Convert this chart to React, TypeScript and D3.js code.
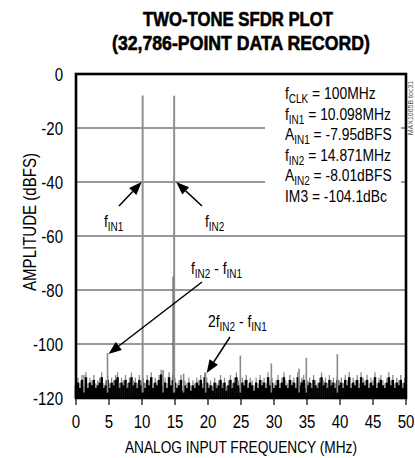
import React from "react";
import * as d3 from "d3";

const W = 415;
const H = 458;
const FONT = "'Liberation Sans', Arial, sans-serif";

const xTicks = [0, 5, 10, 15, 20, 25, 30, 35, 40, 45, 50];
const yTicks = [0, -20, -40, -60, -80, -100, -120];
const gridLevels = [-20, -40, -60, -80, -100];

// Fundamental tones [MHz, dBFS]
const toneFreqs = [10.098, 14.871];
const toneAmps = [-7.95, -8.01];

// Spurs [MHz, dBFS]
const spurFreqs = [1.2, 4.773, 13.2, 14.75, 16.3, 19.644, 24.9, 29.6, 33.8, 34.9, 39.6];
const spurAmps = [-111.5, -103.3, -109.6, -75, -111, -110.7, -104.3, -107.2, -109.2, -105.1, -103.7];

// Noise floor tops, 0.3 MHz bins starting at 0 MHz
const noiseStep = 0.3;
const noiseTops = [
  -115, -114, -116, -113, -115, -112, -116, -114, -115, -113, -116, -115, -114, -112, -116, -115, -113,
  -116, -114, -115, -113, -112, -116, -114, -115, -113, -116, -114, -112, -115, -114, -116, -113, -115,
  -114, -116, -113, -115, -112, -116, -114, -115, -113, -111, -115, -114, -116, -112, -115, -113, -114,
  -116, -115, -113, -117, -115, -116, -114, -117, -115, -116, -114, -115, -113, -116, -112, -114,
  -116, -115, -117, -114, -116, -115, -113, -116, -114, -117, -115, -113, -116, -114, -112, -115, -116,
  -114, -115, -113, -116, -114, -115, -117, -114, -116, -113, -115, -114, -116, -112, -115, -114, -116,
  -115, -113, -116, -114, -112, -115, -116, -113, -115, -114, -116, -112, -115, -114, -113, -116, -115,
  -114, -116, -113, -115, -116, -114, -112, -115, -114, -116, -113, -115, -114, -116, -113, -115,
  -114, -116, -113, -115, -112, -116, -114, -115, -113, -116, -112, -114, -115, -113, -116, -114, -115,
  -112, -116, -114, -113, -115, -116, -114, -112, -115, -113, -116, -114, -115, -113, -116, -114,
];

const infoLines = [
  { base: "f", sub: "CLK", rest: " = 100MHz" },
  { base: "f", sub: "IN1", rest: " = 10.098MHz" },
  { base: "A", sub: "IN1", rest: " = -7.95dBFS" },
  { base: "f", sub: "IN2", rest: " = 14.871MHz" },
  { base: "A", sub: "IN2", rest: " = -8.01dBFS" },
  { base: "IM3", sub: "", rest: " = -104.1dBc" },
];

const x = d3.scaleLinear().domain([0, 50]).range([76, 406]);
const y = d3.scaleLinear().domain([-120, 0]).range([398, 74]);

function T({
  x,
  y,
  fs,
  anchor = "start",
  s = 0.86,
  rot = 0,
  weight = "normal",
  fill = "#000",
  children,
}: {
  x: number;
  y: number;
  fs: number;
  anchor?: string;
  s?: number;
  rot?: number;
  weight?: string;
  fill?: string;
  children: React.ReactNode;
}) {
  return (
    <text
      transform={`translate(${x},${y}) rotate(${rot}) scale(${s},1)`}
      textAnchor={anchor}
      fontSize={fs}
      fontWeight={weight}
      fill={fill}
    >
      {children}
    </text>
  );
}

function Sub({ base, sub, rest, fs }: { base: string; sub: string; rest: string; fs: number }) {
  return (
    <>
      <tspan>{base}</tspan>
      {sub ? (
        <tspan fontSize={fs * 0.72} dy={4}>
          {sub}
        </tspan>
      ) : null}
      <tspan dy={sub ? -4 : 0}>{rest}</tspan>
    </>
  );
}

function Arrow({ x1, y1, x2, y2 }: { x1: number; y1: number; x2: number; y2: number }) {
  const ang = Math.atan2(y2 - y1, x2 - x1);
  const len = 13;
  const half = 5;
  const bx = x2 - len * Math.cos(ang);
  const by = y2 - len * Math.sin(ang);
  const px = -Math.sin(ang) * half;
  const py = Math.cos(ang) * half;
  return (
    <g>
      <line x1={x1} y1={y1} x2={bx} y2={by} stroke="#000" strokeWidth={1.5} />
      <polygon points={`${x2},${y2} ${bx + px},${by + py} ${bx - px},${by - py}`} fill="#000" />
    </g>
  );
}

export default function App() {
  const fs = 16.5;
  const si = 0.84;
  return (
    <svg
      width={W}
      height={H}
      style={{ position: "absolute", left: 0, top: 0, background: "#fff" }}
      fontFamily={FONT}
    >
      {/* Title */}
      <text x={143} y={26} fontSize={20.5} fontWeight="bold" stroke="#000" strokeWidth={0.6} textLength={190} lengthAdjust="spacingAndGlyphs">
        TWO-TONE SFDR PLOT
      </text>
      <text x={112} y={50} fontSize={20.5} fontWeight="bold" stroke="#000" strokeWidth={0.6} textLength={258} lengthAdjust="spacingAndGlyphs">
        (32,786-POINT DATA RECORD)
      </text>

      {/* gridlines */}
      {gridLevels.map((g) => (
        <line key={g} x1={x(0)} x2={x(50)} y1={y(g)} y2={y(g)} stroke="#333" strokeWidth={1} />
      ))}

      {/* noise floor */}
      {noiseTops.map((v, i) => {
        const f = i * noiseStep;
        if (f > 50) return null;
        return (
          <g key={i}>
            <line x1={x(f)} x2={x(f)} y1={y(-120)} y2={y(v + 1.5)} stroke="#8a8a8a" strokeWidth={1.3} />
            <line x1={x(f)} x2={x(f)} y1={y(-120)} y2={y(v - 0.3)} stroke="#000" strokeWidth={2.5} />
          </g>
        );
      })}

      {/* spurs */}
      {spurFreqs.map((f, i) => (
        <line
          key={i}
          x1={x(f)}
          x2={x(f)}
          y1={y(-118)}
          y2={y(spurAmps[i])}
          stroke={spurAmps[i] > -90 ? "#333" : "#8a8a8a"}
          strokeWidth={1.6}
        />
      ))}

      {/* tones */}
      {toneFreqs.map((f, i) => (
        <line key={i} x1={x(f)} x2={x(f)} y1={y(-118)} y2={y(toneAmps[i])} stroke="#8f8f8f" strokeWidth={2} />
      ))}

      {/* info box */}
      <rect x={265} y={80} width={136} height={128} fill="#fff" />
      {infoLines.map((l, i) => (
        <T key={i} x={285} y={99 + i * 20.5} fs={fs} s={si}>
          <Sub base={l.base} sub={l.sub} rest={l.rest} fs={fs} />
        </T>
      ))}

      {/* annotations */}
      <Arrow x1={119} y1={206} x2={x(toneFreqs[0]) - 1} y2={y(-40)} />
      <Arrow x1={202} y1={206} x2={x(toneFreqs[1]) + 2} y2={y(-40)} />
      <T x={104} y={227} fs={fs} s={si}>
        <Sub base="f" sub="IN1" rest="" fs={fs} />
      </T>
      <T x={205} y={227} fs={fs} s={si}>
        <Sub base="f" sub="IN2" rest="" fs={fs} />
      </T>

      <T x={191} y={274} fs={fs} s={si}>
        <Sub base="f" sub="IN2" rest=" - " fs={fs} />
        <Sub base="f" sub="IN1" rest="" fs={fs} />
      </T>
      <Arrow x1={202} y1={282} x2={x(spurFreqs[1]) + 1} y2={y(spurAmps[1]) + 1} />

      <T x={208} y={327} fs={fs} s={si}>
        <Sub base="2f" sub="IN2" rest=" - " fs={fs} />
        <Sub base="f" sub="IN1" rest="" fs={fs} />
      </T>
      <Arrow x1={230} y1={337} x2={x(spurFreqs[5]) + 1} y2={y(spurAmps[5])} />

      {/* frame */}
      <rect x={x(0)} y={y(0)} width={x(50) - x(0)} height={y(-120) - y(0)} fill="none" stroke="#000" strokeWidth={2.6} />

      {/* x ticks */}
      {xTicks.map((t) => (
        <g key={t}>
          <line x1={x(t)} x2={x(t)} y1={y(-120)} y2={y(-120) + 7} stroke="#000" strokeWidth={1.2} />
          <T x={x(t)} y={428} fs={17.5} anchor="middle" s={0.86}>
            {t}
          </T>
        </g>
      ))}
      {/* y ticks */}
      {yTicks.map((t) => (
        <T key={t} x={63} y={y(t) + 6.5} fs={17.5} anchor="end" s={0.86}>
          {t}
        </T>
      ))}

      <text x={125} y={453} fontSize={17} textLength={232} lengthAdjust="spacingAndGlyphs">
        ANALOG INPUT FREQUENCY (MHz)
      </text>
      <T x={36} y={222} fs={17.5} anchor="middle" rot={-90} s={0.86}>
        AMPLITUDE (dBFS)
      </T>

      <T x={413} y={108} fs={7} anchor="middle" rot={-90} s={1} fill="#555">
        MAX1065B toc31
      </T>
    </svg>
  );
}
